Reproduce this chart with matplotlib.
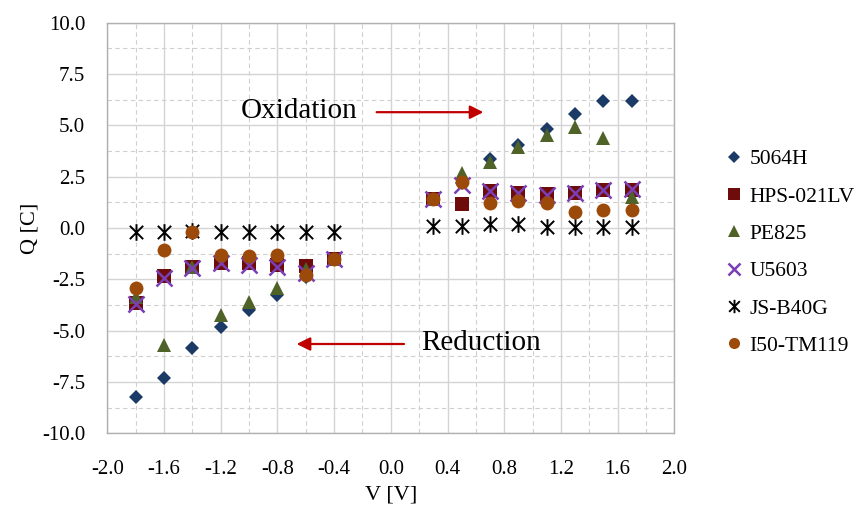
import matplotlib
matplotlib.use("Agg")
import matplotlib.pyplot as plt
from matplotlib.path import Path
from matplotlib.ticker import MultipleLocator, FormatStrFormatter

# Charge passed vs. applied voltage for six resin samples.
v_neg = [-1.8, -1.6, -1.4, -1.2, -1.0, -0.8, -0.6, -0.4]
v_pos = [0.3, 0.5, 0.7, 0.9, 1.1, 1.3, 1.5, 1.7]
volts = v_neg + v_pos

q_5064h = [-8.25, -7.31, -5.83, -4.81, -3.99, -3.26, -2.37, -1.5,
           1.4, 2.2, 3.35, 4.04, 4.80, 5.55, 6.19, 6.19]
q_hps021lv = [-3.64, -2.34, -1.88, -1.72, -1.72, -1.80, -1.85, -1.5,
              1.4, 1.17, 1.82, 1.72, 1.66, 1.72, 1.85, 1.85]
q_pe825 = [-3.35, -5.70, -1.88, -4.24, -3.59, -2.94, -2.0, -1.5,
           1.4, 2.66, 3.23, 3.96, 4.53, 4.91, 4.37, 1.52]
q_u5603 = [-3.68, -2.45, -1.97, -1.72, -1.80, -1.88, -2.21, -1.51,
           1.41, 2.10, 1.78, 1.70, 1.61, 1.72, 1.85, 1.88]
q_jsb40g = [-0.21, -0.21, -0.15, -0.21, -0.21, -0.21, -0.21, -0.21,
            0.10, 0.10, 0.18, 0.18, 0.06, 0.03, 0.06, 0.06]
q_i50tm119 = [-2.94, -1.07, -0.18, -1.31, -1.36, -1.31, -2.29, -1.51,
              1.41, 2.26, 1.20, 1.33, 1.20, 0.79, 0.88, 0.90]

# asterisk: vertical stroke plus an X
d = 0.8
star = Path([(0, -1), (0, 1), (-d, -d), (d, d), (-d, d), (d, -d)],
            [Path.MOVETO, Path.LINETO] * 3)

series = [
    ("5064H", q_5064h, dict(marker="D", ms=7.5, color="#1B3A66", mew=0)),
    ("HPS-021LV", q_hps021lv, dict(marker="s", ms=10, color="#6E0B0B", mew=0)),
    ("PE825", q_pe825, dict(marker="^", ms=10, color="#4F6228", mew=0)),
    ("U5603", q_u5603, dict(marker="x", ms=11, color="#7B3FB5", mew=1.8)),
    ("JS-B40G", q_jsb40g, dict(marker=star, ms=12, color="black", mew=1.4)),
    ("I50-TM119", q_i50tm119, dict(marker="o", ms=10, color="#9C4A09", mew=0)),
]

plt.rcParams["font.family"] = ["Liberation Serif", "DejaVu Serif"]

fig = plt.figure(figsize=(8.55, 5.15), dpi=100)
ax = fig.add_axes([0.1255, 0.1586, 0.6632, 0.7974])

for name, q, style in series:
    ax.plot(volts, q, linestyle="none", label=name, zorder=3, **style)

ax.set_xlim(-2.0, 2.0)
ax.set_ylim(-10.0, 10.0)
ax.xaxis.set_major_locator(MultipleLocator(0.4))
ax.xaxis.set_minor_locator(MultipleLocator(0.2))
ax.yaxis.set_major_locator(MultipleLocator(2.5))
ax.yaxis.set_minor_locator(MultipleLocator(1.25))
ax.xaxis.set_major_formatter(FormatStrFormatter("%.1f"))
ax.yaxis.set_major_formatter(FormatStrFormatter("%.1f"))

ax.grid(which="major", color="#D4D4D4", lw=1.0, zorder=0)
ax.grid(which="minor", color="#CFCFCF", lw=0.8, ls=(0, (4, 3)), zorder=0)
ax.set_axisbelow(True)
for sp in ax.spines.values():
    sp.set_color("#B0B0B0")
    sp.set_linewidth(1.0)

ax.tick_params(which="both", length=0)
ax.tick_params(axis="x", labelsize=15, pad=19)
ax.tick_params(axis="y", labelsize=15, pad=16)

ax.set_xlabel("V [V]", fontsize=16, labelpad=5)
ax.set_ylabel("Q [C]", fontsize=16, labelpad=2)

red = "#C00000"
ax.text(-0.644, 5.70, "Oxidation", fontsize=21, ha="center", va="center")
ax.annotate("", xy=(0.653, 5.64), xytext=(-0.10, 5.64),
            arrowprops=dict(arrowstyle="-|>", color=red, lw=1.6,
                            mutation_scale=20, shrinkA=0, shrinkB=0))
ax.text(0.640, -5.60, "Reduction", fontsize=21, ha="center", va="center")
ax.annotate("", xy=(-0.664, -5.65), xytext=(0.093, -5.65),
            arrowprops=dict(arrowstyle="-|>", color=red, lw=1.6,
                            mutation_scale=20, shrinkA=0, shrinkB=0))

fig.legend(loc="upper left", bbox_to_anchor=(0.836, 0.731), frameon=False,
           fontsize=15.5, markerscale=0.8, handlelength=0.8, handletextpad=0.3,
           labelspacing=0.8, borderpad=0)

fig.savefig("out.png", dpi=100)
